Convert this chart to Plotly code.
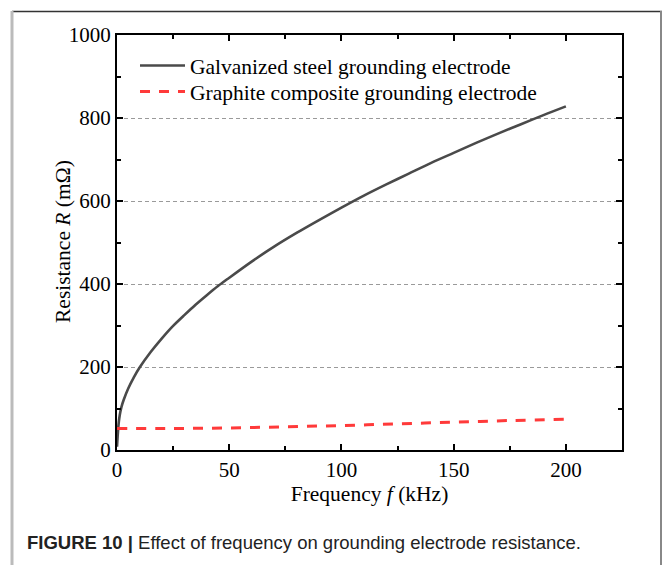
import plotly.graph_objects as go

# Data
freq_steel = [0, 0.3, 0.7, 1, 1.5, 2, 3, 5, 7.5, 10, 15, 20, 25, 30, 35, 40, 45,
              50, 60, 70, 80, 90, 100, 110, 120, 130, 140, 150, 160,
              170, 180, 190, 200]
r_steel = [8, 34, 62, 76, 92, 104, 121, 148, 175, 198, 236, 269, 299, 325, 350,
           373, 395, 415, 454, 490, 523, 554, 584, 613, 640, 666, 692, 716, 740,
           763, 785, 807, 828]

freq_graphite = [0, 25, 50, 75, 100, 125, 150, 175, 200]
r_graphite = [52, 52, 53, 56, 59, 63, 67, 71, 74]

W, H = 665, 565
L, R, T, B = 117, 622, 35, 450  # plot area in pixels


def px(x):
    return (x - L) / (R - L)


def py(y):
    return (B - y) / (B - T)


serif = "Liberation Serif"

fig = go.Figure()
fig.add_trace(go.Scatter(
    x=freq_steel, y=r_steel, mode="lines",
    name="Galvanized steel grounding electrode",
    line=dict(color="#4a4a4a", width=2.6, shape="spline", smoothing=0.8),
    legend="legend",
))
fig.add_trace(go.Scatter(
    x=freq_graphite, y=r_graphite, mode="lines",
    name="Graphite composite grounding electrode",
    line=dict(color="#ff3a3a", width=3, dash="10px,9px", shape="spline"),
    legend="legend2",
))

axis_common = dict(
    showline=True, linecolor="black", linewidth=2, mirror="allticks",
    ticks="inside", ticklen=6, tickwidth=1.5, tickcolor="black",
    tickfont=dict(family=serif, size=21, color="black"),
    zeroline=False,
)

fig.update_xaxes(
    range=[0, 225], dtick=50, tick0=0, showgrid=False,
    minor=dict(dtick=25, ticks="inside", ticklen=4, tickwidth=1.5, tickcolor="black"),
    title=dict(text="Frequency <i>f</i> (kHz)", font=dict(family=serif, size=21.5, color="black"),
               standoff=3),
    **axis_common,
)
fig.update_yaxes(
    range=[0, 1000], dtick=200, tick0=0, showgrid=True,
    gridcolor="#9a9a9a", gridwidth=1, griddash="4px,3px",
    minor=dict(dtick=100, ticks="inside", ticklen=4, tickwidth=1.5, tickcolor="black",
               showgrid=False),
    **axis_common,
)

shapes = [
    dict(type="line", xref="paper", yref="paper", x0=px(12), x1=px(662), y0=py(11.5), y1=py(11.5),
         line=dict(color="#333333", width=1.5)),
    dict(type="line", xref="paper", yref="paper", x0=px(12), x1=px(12), y0=py(11), y1=py(570),
         line=dict(color="#bbbbbb", width=3)),
    dict(type="line", xref="paper", yref="paper", x0=px(661), x1=px(661), y0=py(11), y1=py(570),
         line=dict(color="#888888", width=2)),
]

legend_style = dict(xanchor="left", yanchor="top", bgcolor="rgba(0,0,0,0)", borderwidth=0,
                    font=dict(family=serif, size=21.5, color="black"), itemwidth=45)

fig.update_layout(
    width=W, height=H,
    margin=dict(l=L, r=W - R, t=T, b=H - B),
    paper_bgcolor="white", plot_bgcolor="white",
    showlegend=True,
    legend=dict(x=px(135), y=py(45), **legend_style),
    legend2=dict(x=px(135), y=py(71), **legend_style),
    shapes=shapes,
    annotations=[
        dict(xref="paper", yref="paper", x=px(63), y=py(242), xanchor="center", yanchor="middle",
             text="Resistance <i>R</i> (mΩ)", textangle=-90, showarrow=False,
             font=dict(family=serif, size=21.5, color="black")),
        dict(xref="paper", yref="paper", x=px(25), y=py(542), xanchor="left", yanchor="middle",
             text="<b>FIGURE 10 |</b> Effect of frequency on grounding electrode resistance.",
             showarrow=False, font=dict(family="Liberation Sans", size=18.5, color="#222222")),
    ],
)

fig.write_html("out.html")
